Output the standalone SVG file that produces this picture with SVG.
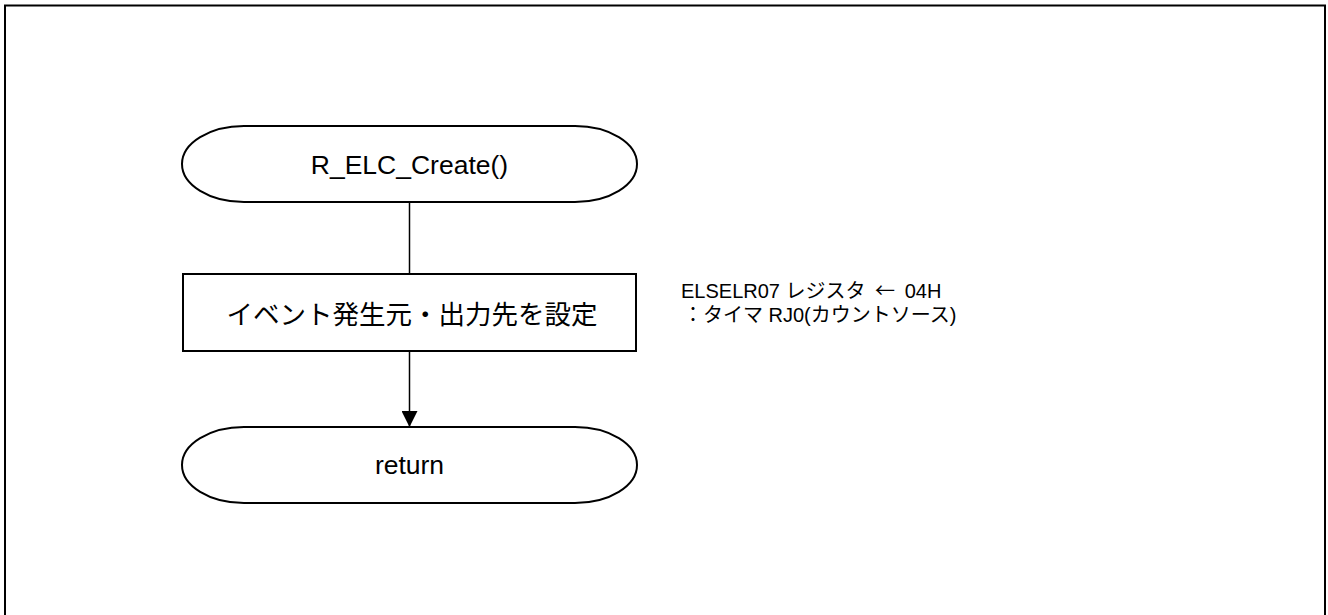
<svg xmlns="http://www.w3.org/2000/svg" width="1328" height="615" viewBox="0 0 1328 615">
<defs>
<style>
.shape{fill:#fff;stroke:#000;stroke-width:2}
.line{fill:none;stroke:#000;stroke-width:1.5}
.lbl{font-family:"Liberation Sans","Noto Sans CJK JP",sans-serif;font-size:26.5px;fill:#000;text-anchor:middle}
.note{font-family:"Liberation Sans","Noto Sans CJK JP",sans-serif;font-size:20px;fill:#000}
.cjk{font-family:"Noto Sans CJK JP",sans-serif}
</style>
<marker id="arr" markerWidth="16" markerHeight="16" refX="16" refY="8" orient="auto" markerUnits="userSpaceOnUse">
<path d="M0,0 L16,8 L0,16 Z" fill="#000"/>
</marker>
</defs>
<rect x="5" y="5.5" width="1320" height="620" fill="none" stroke="#000" stroke-width="2"/>
<g id="connectors">
<line class="line" x1="409.5" y1="202" x2="409.5" y2="274"/>
<line class="line" x1="409.5" y1="351" x2="409.5" y2="427" marker-end="url(#arr)"/>
</g>
<g id="start">
<rect class="shape" x="182" y="126" width="455" height="76" rx="62" ry="38"/>
<text class="lbl" x="409.5" y="174">R_ELC_Create()</text>
</g>
<g id="process">
<rect class="shape" x="183" y="274" width="453" height="77"/>
<text class="lbl" x="412" y="324">イベント発生元・出力先を設定</text>
</g>
<g id="end">
<rect class="shape" x="182" y="427" width="455" height="76" rx="62" ry="38"/>
<text class="lbl" x="409.5" y="474">return</text>
</g>
<g id="note">
<text class="note" x="681" y="298">ELSELR07 レジスタ <tspan class="cjk" dx="4">←</tspan><tspan dx="4"> 04H</tspan></text>
<text class="note" x="683" y="322">：タイマ RJ0(カウントソース)</text>
</g>
</svg>
